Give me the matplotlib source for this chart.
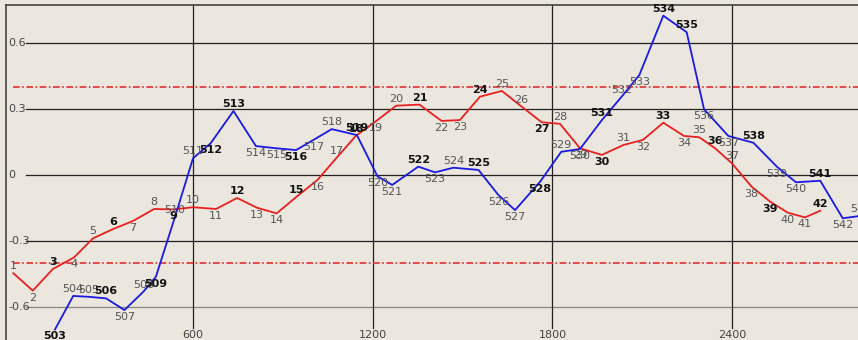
import matplotlib
matplotlib.use("Agg")
import matplotlib.pyplot as plt
import matplotlib.transforms as mtransforms

# red series (labels 1..42)
red_x = [0, 65, 132, 203, 266, 333, 400, 470, 533, 600,
         677, 747, 813, 879, 946, 1015, 1080, 1144, 1211, 1278,
         1356, 1430, 1491, 1558, 1631, 1697, 1764, 1825, 1892, 1965,
         2037, 2102, 2170, 2239, 2290, 2343, 2399, 2465, 2527, 2586,
         2643, 2694]
red_y = [-0.445, -0.524, -0.426, -0.373, -0.287, -0.245, -0.208, -0.154, -0.156, -0.146,
         -0.154, -0.104, -0.148, -0.174, -0.098, -0.023, 0.079, 0.178, 0.244, 0.314,
         0.319, 0.245, 0.249, 0.355, 0.381, 0.31, 0.239, 0.232, 0.121, 0.091,
         0.136, 0.159, 0.237, 0.177, 0.171, 0.121, 0.053, -0.053, -0.121, -0.171,
         -0.192, -0.162]
red_lab = list(range(1, 43))
red_bold = [3, 6, 9, 12, 15, 18, 21, 24, 27, 30, 33, 36, 39, 42]

# blue series (labels 503..543)
blue_x = [139, 200, 253, 310, 371, 434, 476, 540, 600, 659,
          735, 810, 879, 944, 1002, 1063, 1147, 1216, 1265, 1352,
          1408, 1469, 1553, 1619, 1675, 1759, 1829, 1892, 1965, 2031,
          2090, 2170, 2248, 2306, 2387, 2471, 2549, 2613, 2694, 2769,
          2830]
blue_y = [-0.70, -0.548, -0.552, -0.559, -0.612, -0.529, -0.461, -0.189, 0.076, 0.144,
          0.290, 0.131, 0.121, 0.113, 0.159, 0.208, 0.181, -0.006, -0.045, 0.038,
          0.012, 0.033, 0.023, -0.09, -0.159, -0.03, 0.105, 0.118, 0.249, 0.355,
          0.453, 0.722, 0.647, 0.298, 0.177, 0.146, 0.038, -0.033, -0.026, -0.196,
          -0.185]
blue_lab = list(range(503, 544))
blue_bold = [503, 506, 509, 512, 513, 516, 519, 522, 525, 528, 531, 534, 535, 538, 541]

limit = 0.397
yticks = [0.6, 0.3, 0, -0.3, -0.6]
ytick_txt = ["0.6", "0.3", "0", "-0.3", "-0.6"]
xticks = [600, 1200, 1800, 2400]

bg = "#ebe6de"
fig = plt.figure(figsize=(8.58, 3.40), dpi=100)
fig.patch.set_facecolor(bg)
ax = fig.add_axes([6/858, 0, 852/858, 335/340])
ax.set_facecolor(bg)
ax.set_xlim(-24.4, 2820)
ax.set_ylim(-0.7476, 0.7703)
ax.set_xticks([])
ax.set_yticks([])
for s in ["right", "bottom"]:
    ax.spines[s].set_visible(False)
for s in ["left", "top"]:
    ax.spines[s].set_color("#444444")
    ax.spines[s].set_linewidth(1.2)

# grid
for v in yticks:
    c = "#8a8580" if v == -0.6 else "#222222"
    ax.axhline(v, xmin=20/852, color=c, lw=0.9, zorder=1)
for v in xticks:
    ax.axvline(v, ymin=12/335, color="#222222", lw=0.9, zorder=1)

tr_y = mtransforms.blended_transform_factory(ax.transAxes, ax.transData)
tr_x = mtransforms.blended_transform_factory(ax.transData, ax.transAxes)
for v, t in zip(yticks, ytick_txt):
    ax.text(2/852, v, t, transform=tr_y, ha="left", va="center", fontsize=8, color="#444444")
for v in xticks:
    ax.text(v, 5/335, str(v), transform=tr_x, ha="center", va="center", fontsize=8, color="#444444")

# limit lines
for v in (limit, -limit):
    ax.axhline(v, xmin=7/852, color="#e03030", lw=1.2, ls=(0, (4, 1.5, 1, 1.5)), zorder=2)

ax.plot(red_x, red_y, color="#e82020", lw=1.3, zorder=3)
ax.plot(blue_x, blue_y, color="#1a1ae0", lw=1.3, zorder=3)


def put_labels(xs, ys, labs, bold):
    n = len(xs)
    for i in range(n):
        if i == 0:
            up = ys[i] >= ys[i + 1]
        elif i == n - 1:
            up = ys[i] >= ys[i - 1]
        else:
            up = ys[i] >= (ys[i - 1] + ys[i + 1]) / 2
        b = labs[i] in bold
        ax.annotate(str(labs[i]), (xs[i], ys[i]), xytext=(0, 5 if up else -5),
                    textcoords="offset points", ha="center", va="center",
                    fontsize=8, color="#111111" if b else "#555555",
                    fontweight="bold" if b else "normal", zorder=4,
                    annotation_clip=False)


put_labels(red_x, red_y, red_lab, red_bold)
put_labels(blue_x, blue_y, blue_lab, blue_bold)

fig.savefig("out.png", dpi=100, facecolor=bg)
